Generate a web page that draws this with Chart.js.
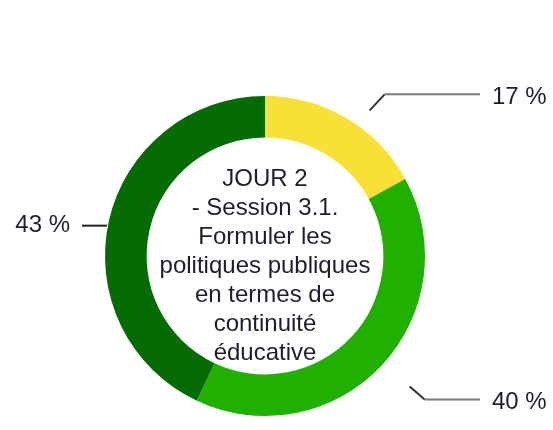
<!DOCTYPE html>
<html>
<head>
<meta charset="utf-8">
<script src="https://cdn.jsdelivr.net/npm/chart.js@4/dist/chart.umd.min.js"></script>
<style>
  body { margin: 0; background: #fff; }
  canvas { display: block; }
</style>
</head>
<body>
<canvas id="donut" width="553" height="430"></canvas>
<script>
// data
var sliceNames = ['Jaune', 'Vert clair', 'Vert foncé'];
var sliceValues = [17, 40, 43];
var sliceColors = ['#f8e036', '#1fb000', '#046c00'];
var centerLines = ['JOUR 2', '- Session 3.1.', 'Formuler les', 'politiques publiques', 'en termes de', 'continuité', 'éducative'];

var FONT = '"Liberation Sans", Arial, Helvetica, sans-serif';

// text in the hole of the donut
var centerText = {
  id: 'centerText',
  afterDraw: function(chart) {
    var arc = chart.getDatasetMeta(0).data[0];
    if (!arc) return;
    var ctx = chart.ctx;
    var lh = 29;
    var y0 = arc.y - (centerLines.length - 1) * lh / 2 + 10;
    ctx.save();
    ctx.fillStyle = '#1f1d2b';
    ctx.font = '24px ' + FONT;
    ctx.textAlign = 'center';
    ctx.textBaseline = 'middle';
    centerLines.forEach(function(line, i) {
      ctx.fillText(line, arc.x, y0 + i * lh);
    });
    ctx.restore();
  }
};

// leader lines + percentage labels
var leaders = {
  id: 'leaders',
  afterDraw: function(chart) {
    var ctx = chart.ctx;
    var meta = chart.getDatasetMeta(0);
    ctx.save();
    ctx.font = '24px ' + FONT;
    ctx.textBaseline = 'middle';
    meta.data.forEach(function(arc, i) {
      var p = arc.getProps(['x', 'y', 'startAngle', 'endAngle', 'outerRadius'], true);
      var mid = (p.startAngle + p.endAngle) / 2;
      var cos = Math.cos(mid), sin = Math.sin(mid);
      var right = cos >= 0;
      var text = sliceValues[i] + ' %';
      var lineEndX = right ? p.x + p.outerRadius + 55 : p.x - p.outerRadius - 23;

      var x0, y0, x1, y1;
      if (Math.abs(sin) < 0.3) {
        // nearly horizontal: straight tick from the ring
        x0 = p.x + cos * (p.outerRadius + 2);
        y0 = p.y + sin * (p.outerRadius + 2) + 5;
        x1 = x0; y1 = y0;
      } else {
        x0 = p.x + cos * (p.outerRadius + 22) + (right ? 12 : -12);
        y0 = p.y + sin * (p.outerRadius + 22) + (sin < 0 ? 11 : 6);
        x1 = x0 + (right ? 15 : -15);
        y1 = y0 + (sin < 0 ? -16 : 13);
      }

      ctx.lineWidth = 2;
      if (x1 !== x0) {
        ctx.strokeStyle = '#333';
        ctx.beginPath();
        ctx.moveTo(x0, y0);
        ctx.lineTo(x1, y1);
        ctx.stroke();
      }
      ctx.strokeStyle = x1 !== x0 ? '#7a7a7a' : '#222';
      ctx.beginPath();
      ctx.moveTo(x1, y1);
      ctx.lineTo(lineEndX, y1);
      ctx.stroke();

      ctx.fillStyle = '#1f1d2b';
      ctx.textAlign = right ? 'left' : 'right';
      ctx.fillText(text, right ? lineEndX + 12 : lineEndX - 12, y1 + (x1 !== x0 ? 3 : 0));
    });
    ctx.restore();
  }
};

var chart = new Chart(document.getElementById('donut'), {
  type: 'doughnut',
  data: {
    labels: sliceNames,
    datasets: [{
      data: sliceValues,
      backgroundColor: sliceColors,
      borderWidth: 0,
      hoverOffset: 0
    }]
  },
  options: {
    responsive: false,
    animation: false,
    cutout: '74%',
    layout: {
      padding: { top: 96, bottom: 14, left: 0, right: 23 }
    },
    plugins: {
      legend: { display: false },
      tooltip: { enabled: false }
    }
  },
  plugins: [centerText, leaders]
});
</script>
</body>
</html>
